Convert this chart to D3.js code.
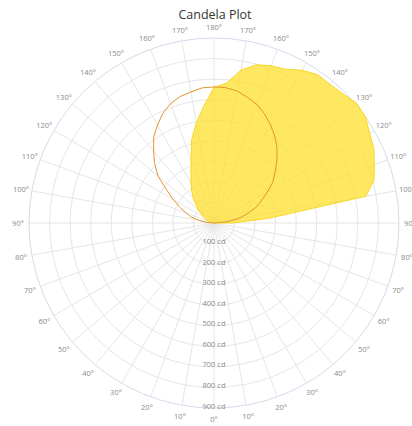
<!DOCTYPE html>
<html>
<head>
<meta charset="utf-8">
<script src="https://cdn.jsdelivr.net/npm/d3@7"></script>
<style>
  html, body { margin: 0; padding: 0; background: #fff; }
  svg { display: block; }
</style>
</head>
<body>
<svg id="chart" width="412" height="426"></svg>
<script>
// Vertical angles (gamma), 0° = straight down, 180° = straight up
const gammaAngles = [0, 5, 10, 15, 20, 25, 30, 35, 40, 45, 50, 55, 60, 65, 70, 75, 80, 85,
                     90, 95, 100, 105, 110, 115, 120, 125, 130, 135, 140, 145, 150, 155, 160, 165, 170, 175, 180];

// Yellow distribution: right half-plane and left half-plane (cd)
const fillRight = [0, 0, 0, 0, 0, 0, 0, 0, 0, 0, 0, 0, 0, 0, 0, 0, 0, 0,
                   90, 270, 750, 806, 830, 858, 874, 900, 906, 888, 880, 880, 858, 825, 814, 797, 755, 682, 660];
const fillLeft  = [0, 0, 0, 0, 0, 0, 0, 0, 0, 0, 0, 0, 0, 0, 0, 0, 0, 0,
                   0, 8, 15, 25, 35, 45, 58, 75, 100, 125, 155, 190, 224, 265, 327, 420, 495, 570, 660];

// Orange outline distribution: right half-plane and left half-plane (cd)
const lineRight = [0, 0, 0, 0, 0, 0, 0, 0, 0, 0, 0, 0, 0, 0, 0, 0, 0, 0,
                   0, 58, 117, 165, 214, 253, 300, 350, 389, 433, 477, 516, 550, 584, 613, 632, 652, 661, 662];
const lineLeft  = [0, 0, 0, 0, 0, 0, 0, 0, 0, 0, 0, 0, 0, 0, 0, 0, 0, 0,
                   0, 39, 78, 117, 146, 185, 229, 282, 355, 409, 457, 511, 550, 589, 618, 637, 647, 660, 662];

// Axis ticks
const ringTicks = [100, 200, 300, 400, 500, 600, 700, 800, 900];
const spokeTicks = d3.range(0, 360, 10);
const chartTitle = "Candela Plot";

const svg = d3.select("#chart");
const cx = 214, cy = 223, outerR = 185;
const r = d3.scaleLinear().domain([0, 900]).range([0, outerR]);
const toRad = d => d * Math.PI / 180;

const g = svg.append("g").attr("transform", `translate(${cx},${cy})`);

// Concentric rings
g.append("g").selectAll("circle")
  .data(ringTicks)
  .join("circle")
  .attr("r", d => r(d))
  .attr("fill", "none")
  .attr("stroke", d => d === 900 ? "#d3dbea" : "#e6e6e6")
  .attr("stroke-width", 1);

// Spokes every 10°
g.append("g").selectAll("line")
  .data(spokeTicks)
  .join("line")
  .attr("x1", 0).attr("y1", 0)
  .attr("x2", d => r(900) * Math.sin(toRad(d)))
  .attr("y2", d => -r(900) * Math.cos(toRad(d)))
  .attr("stroke", "#e6e6e6")
  .attr("stroke-width", 1);

// Build closed loops: right half from top to bottom, then left half from bottom to top
function loop(right, left) {
  const pts = [];
  for (let i = gammaAngles.length - 1; i >= 0; i--) pts.push({a: Math.PI - toRad(gammaAngles[i]), v: right[i]});
  for (let i = 1; i < gammaAngles.length - 1; i++) pts.push({a: Math.PI + toRad(gammaAngles[i]), v: left[i]});
  return pts;
}

const radial = d3.lineRadial()
  .angle(d => d.a)
  .radius(d => r(d.v))
  .curve(d3.curveLinearClosed);

g.append("path")
  .datum(loop(fillRight, fillLeft))
  .attr("d", radial)
  .attr("fill", "#fde02c")
  .attr("fill-opacity", 0.75)
  .attr("stroke", "#f8d724")
  .attr("stroke-width", 1);

g.append("path")
  .datum(loop(lineRight, lineLeft))
  .attr("d", radial)
  .attr("fill", "none")
  .attr("stroke", "#e0962f")
  .attr("stroke-width", 1);

// Angle labels around the outside
const labelR = outerR + 11;
const angleLabels = d3.range(0, 360, 10).map(d => ({a: d, text: (d <= 180 ? 180 - d : d - 180) + "°"}));
g.append("g").selectAll("text")
  .data(angleLabels)
  .join("text")
  .attr("x", d => labelR * Math.sin(toRad(d.a)))
  .attr("y", d => -labelR * Math.cos(toRad(d.a)))
  .attr("dy", "0.35em")
  .attr("text-anchor", "middle")
  .attr("font-family", "'Open Sans', sans-serif")
  .attr("font-size", 7.5)
  .attr("fill", "#8a8a8a")
  .text(d => d.text);

// Intensity labels along the 0° spoke
g.append("g").selectAll("text")
  .data(ringTicks)
  .join("text")
  .attr("x", 0)
  .attr("y", d => r(d) + 0.5)
  .attr("text-anchor", "middle")
  .attr("font-family", "'Open Sans', sans-serif")
  .attr("font-size", 7.5)
  .attr("fill", "#8a8a8a")
  .text(d => d + " cd");

// Title
svg.append("text")
  .attr("x", 215)
  .attr("y", 19)
  .attr("text-anchor", "middle")
  .attr("font-family", "'Open Sans', sans-serif")
  .attr("font-size", 12.5)
  .attr("fill", "#333")
  .text(chartTitle);
</script>
</body>
</html>
